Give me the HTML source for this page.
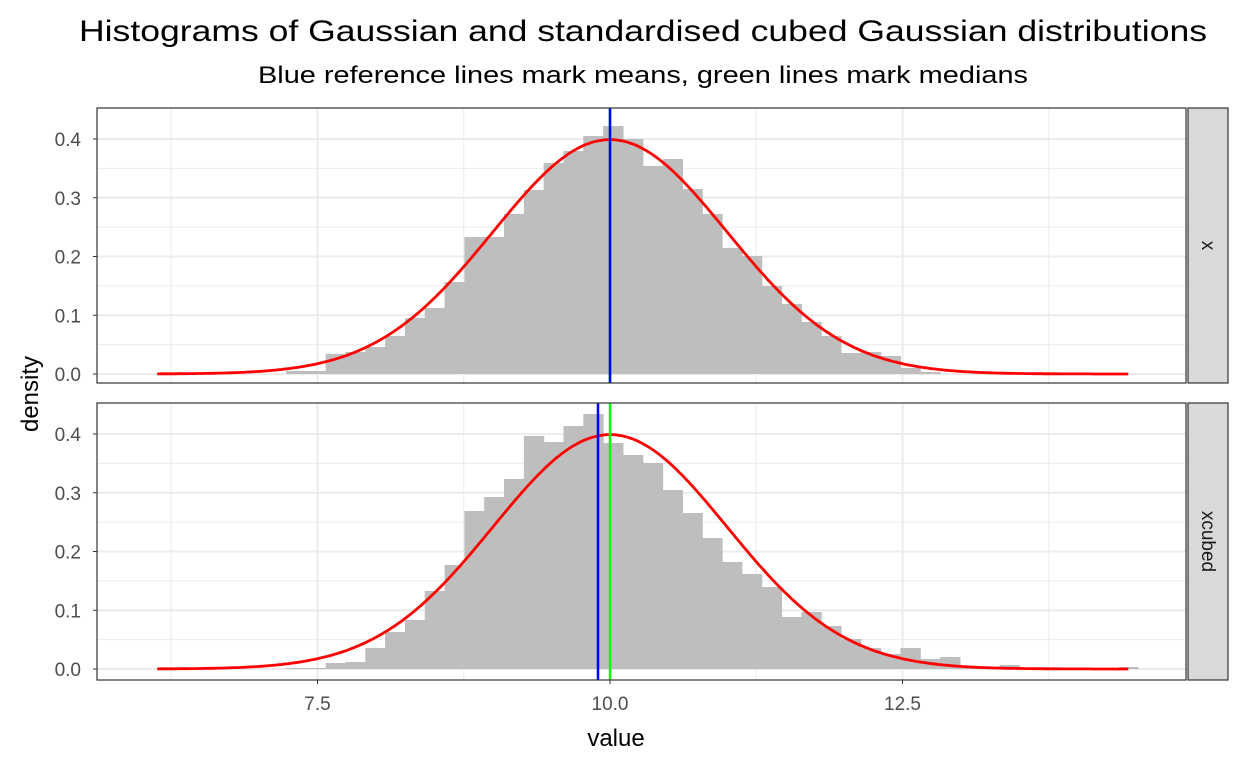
<!DOCTYPE html>
<html><head><meta charset="utf-8"><style>
body{margin:0;background:#fff;}
svg{display:block;font-family:"Liberation Sans",sans-serif;}
</style></head><body>
<svg id="s" width="1248" height="768" xmlns="http://www.w3.org/2000/svg">
<rect width="1248" height="768" fill="#fff"/>
<text x="643" y="41" font-size="29.5" text-anchor="middle" fill="#000" textLength="1128" lengthAdjust="spacingAndGlyphs">Histograms of Gaussian and standardised cubed Gaussian distributions</text>
<text x="643" y="83" font-size="24" text-anchor="middle" fill="#000" textLength="770" lengthAdjust="spacingAndGlyphs">Blue reference lines mark means, green lines mark medians</text>
<g id="g"></g>
<text x="616" y="746" font-size="24" text-anchor="middle">value</text>
<text transform="translate(38,394) rotate(-90)" font-size="24" text-anchor="middle">density</text>
</svg>
<script>
const NS="http://www.w3.org/2000/svg";
const g=document.getElementById('g');
function el(t,a,txt){const e=document.createElementNS(NS,t);for(const k in a)e.setAttribute(k,a[k]);if(txt!==undefined)e.textContent=txt;g.appendChild(e);return e;}
const X0=97,X1=1186;
const xs=v=>610+117*(v-10);
const edges=[];for(let k=0;k<45;k++)edges.push(286+19.82*k);
const topH=[371,371,354,352,347,336,318,308,282,237,237,214,190,163,151,136,126,139,166,159,189,214,248,256,286,304,322,336,353,352,356,368,372];
const botH=[668,668,663,662,648,632,620,591,565,511,497,479,436,442,426,414,443,455,463,490,513,538,562,574,587,617,612,626,639,648,654,648,659,657,668,668,665,668,668,668,668,668,667];
function panel(y0,y1,base,bars,blue,green,label){
  el('rect',{x:X0,y:y0,width:X1-X0,height:y1-y0,fill:'#fff'});
  const u=58.75;
  for(let i=0;i<9;i++){const yy=base-i*u/2;el('line',{x1:X0,x2:X1,y1:yy,y2:yy,stroke:'#ebebeb','stroke-width':i%2?1:2});}
  [6.25,8.75,11.25,13.75].forEach(v=>el('line',{x1:xs(v),x2:xs(v),y1:y0,y2:y1,stroke:'#ebebeb','stroke-width':1}));
  [7.5,10,12.5].forEach(v=>el('line',{x1:xs(v),x2:xs(v),y1:y0,y2:y1,stroke:'#ebebeb','stroke-width':2}));
  bars.forEach((t,i)=>{if(base-t>0.5)el('rect',{x:edges[i],y:t,width:20.4,height:base-t,fill:'#bebebe'});});
  let d='';for(let v=6.13;v<=14.43;v+=0.02){const y=base-0.39894*Math.exp(-0.5*(v-10)*(v-10))*u*10;d+=(d?'L':'M')+xs(v).toFixed(1)+','+y.toFixed(1);}
  el('path',{d:d,fill:'none',stroke:'#ff0000','stroke-width':2.8});
  el('line',{x1:green,x2:green,y1:y0,y2:y1,stroke:'#00ff00','stroke-width':2.5});
  el('line',{x1:blue,x2:blue,y1:y0,y2:y1,stroke:'#0000ff','stroke-width':2.5});
  el('rect',{x:X0,y:y0,width:X1-X0,height:y1-y0,fill:'none',stroke:'#333','stroke-width':1.2});
  for(let i=0;i<5;i++){const yy=base-i*u;el('line',{x1:X0-4,x2:X0,y1:yy,y2:yy,stroke:'#333','stroke-width':1});
    el('text',{x:X0-16,y:yy+7,'font-size':19,'text-anchor':'end',fill:'#4d4d4d'},(i/10).toFixed(1));}
  el('rect',{x:1188,y:y0,width:40,height:y1-y0,fill:'#d9d9d9',stroke:'#333','stroke-width':1.2});
  const cy=(y0+y1)/2;
  el('text',{transform:`translate(1202,${cy}) rotate(90)`,'font-size':19,'text-anchor':'middle',fill:'#1a1a1a'},label);
}
panel(108,383,374,topH,610,610,'x');
panel(403,680,669,botH,598,610,'xcubed');
[7.5,10,12.5].forEach(v=>{el('line',{x1:xs(v),x2:xs(v),y1:680,y2:684,stroke:'#333'});el('text',{x:xs(v),y:710,'font-size':19,'text-anchor':'middle',fill:'#4d4d4d'},v.toFixed(1));});
</script>
</body></html>
